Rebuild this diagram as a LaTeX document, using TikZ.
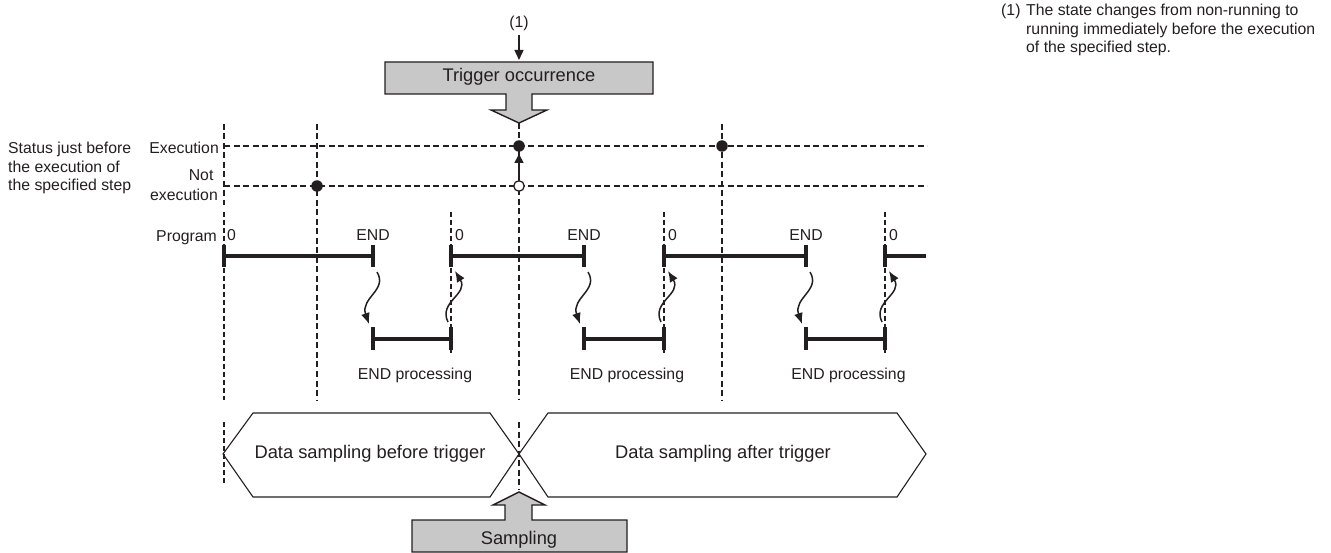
\documentclass[tikz,border=0pt]{standalone}
\usepackage{fontspec}
\setmainfont{Liberation Sans}
\usetikzlibrary{arrows.meta}
\definecolor{boxgray}{RGB}{200,200,200}
\definecolor{ink}{RGB}{35,31,32}
\begin{document}
\begin{tikzpicture}[x=1pt,y=-1pt,
  every node/.style={inner sep=0pt,text=ink},
  small/.style={font=\fontsize{15.8}{18.5}\selectfont},
  big/.style={font=\fontsize{18.3}{22}\selectfont},
  grid/.style={draw=ink,line width=1.4pt,dash pattern=on 6pt off 3.5pt},
  fine/.style={draw=ink,line width=1.1pt,dash pattern=on 5pt off 3pt},
  barline/.style={draw=ink,line width=4pt},
  tickline/.style={draw=ink,line width=4.5pt},
  wave/.style={draw=ink,line width=1.5pt,-{Latex[length=11pt,width=9pt]}},
  hexline/.style={draw=ink,line width=1.1pt,line join=miter},
  blockarrow/.style={draw=ink,line width=1.4pt,fill=boxgray,line join=miter},
  dotfill/.style={circle,fill=ink,minimum size=11.5pt},
  dotopen/.style={circle,draw=ink,fill=white,line width=1.3pt,minimum size=10.5pt}
]
\useasboundingbox (0,0) rectangle (1331,553);

% ---------- trigger occurrence block arrow ----------
\draw[blockarrow] (385,62) -- (653,62) -- (653,94) -- (532,94) -- (532,110) -- (547,110)
  -- (519,123) -- (491,110) -- (506,110) -- (506,94) -- (385,94) -- cycle;
\node[big,anchor=base] (trig) at (519,82) {Trigger occurrence};
\node[small,anchor=base] (one) at (519,27.5) {(1)};
\coordinate (trigtop) at (519,60);
\draw[ink,line width=1.4pt,-{Triangle[length=10pt,width=9pt]}] (one.south) ++(0,4) -- (trigtop);

% ---------- sampling block arrow ----------
\draw[blockarrow] (412,520) -- (505,520) -- (505,505) -- (493,505) -- (519,492) -- (545,505)
  -- (532,505) -- (532,520) -- (627,520) -- (627,552) -- (412,552) -- cycle;
\node[big,anchor=base] (samp) at (519,544) {Sampling};

% ---------- horizontal status lines ----------
\coordinate (exL) at (224,146); \coordinate (exR) at (927,146);
\coordinate (neL) at (224,186); \coordinate (neR) at (927,186);
\draw[grid] (exL) -- (exR);
\draw[grid] (neL) -- (neR);

% ---------- vertical dashed lines ----------
\draw[grid] (224,124) -- (224,205);
\draw[fine] (224,212) -- (224,400);
\draw[fine] (224,422) -- (224,483);
\draw[grid] (317,124) -- (317,400);
\draw[grid] (722,124) -- (722,400);
\draw[grid] (519,123) -- (519,400);
\draw[grid] (519,422) -- (519,490);
\foreach \xx in {451,664,885} {\draw[fine] (\xx,212) -- (\xx,355);}

% ---------- left labels ----------
\node[small,anchor=base west,align=left] (status) at (8,191)
  {Status just before\\the execution of\\the specified step};
\node[small,anchor=base east] (lexec) at (219,154) {Execution};
\node[small,anchor=base east,align=right,font=\fontsize{15.8}{19.5}\selectfont] (lnot) at (218,200.5)
  {Not\hspace*{4.4pt}\\execution};
\node[small,anchor=base east] (lprog) at (217,241.5) {Program};

% ---------- dots ----------
\node[dotfill] (d1) at (317,186) {};
\node[dotfill] (d2) at (519,146) {};
\node[dotfill] (d3) at (722,146) {};
\node[dotopen] (d0) at (519,186) {};
\draw[ink,line width=1.4pt,-{Triangle[length=9pt,width=9pt]}] (d0.north) -- ([yshift=-2pt]d2.south);

% ---------- program bar ----------
\coordinate (s1) at (224,256); \coordinate (e1) at (373,256);
\coordinate (s2) at (451,256); \coordinate (e2) at (584,256);
\coordinate (s3) at (664,256); \coordinate (e3) at (806,256);
\coordinate (s4) at (885,256); \coordinate (e4) at (926,256);
\draw[barline] (s1) -- (e1);
\draw[barline] (s2) -- (e2);
\draw[barline] (s3) -- (e3);
\draw[barline] (s4) -- (e4);
\foreach \c in {s1,e1,s2,e2,s3,e3,s4} {
  \draw[tickline] ([yshift=11pt]\c) -- ([yshift=-11pt]\c);
}
\foreach \xx/\nm in {227/z1,455/z2,668/z3,889/z4} {
  \node[small,anchor=base west] (\nm) at (\xx,241) {0};
}
\foreach \xx/\nm in {373/n1,584/n2,806/n3} {
  \node[small,anchor=base] (\nm) at (\xx,241) {END};
}

% ---------- END processing bars ----------
\foreach \a/\b/\nm in {373/451/p1,584/664/p2,806/885/p3} {
  \coordinate (\nm a) at (\a,339);
  \coordinate (\nm b) at (\b,339);
  \draw[barline] (\nm a) -- (\nm b);
  \draw[tickline] ([yshift=11.5pt]\nm a) -- ([yshift=-11.5pt]\nm a);
  \draw[tickline] ([yshift=11.5pt]\nm b) -- ([yshift=-11.5pt]\nm b);
  \node[small,anchor=base] (\nm t) at ({(\a+\b)/2+3},379) {END processing};
}

% ---------- wavy arrows ----------
\foreach \xx in {373,584,806} {
  \draw[wave] (\xx+4,272) .. controls (\xx+15,290) and (\xx-13,298) .. (\xx-4,324);
}
\foreach \xx in {451,664,885} {
  \draw[wave] (\xx-3,322) .. controls (\xx-13,302) and (\xx+18,294) .. (\xx+4,271);
}

% ---------- data sampling hexagons ----------
\draw[hexline] (223,454) -- (253,413) -- (490,413) -- (519,454) -- (490,497) -- (253,497) -- cycle;
\draw[hexline] (519,454) -- (548,413) -- (897,413) -- (926,454) -- (897,497) -- (548,497) -- cycle;
\node[big,anchor=base] (before) at (370,458) {Data sampling before trigger};
\node[big,anchor=base] (after) at (723,458) {Data sampling after trigger};

% ---------- note ----------
\node[small,anchor=base west] (noteno) at (1001,16) {(1)};
\node[small,anchor=base west,align=left,font=\fontsize{15.8}{18.5}\selectfont] (note) at (1026,53)
  {The state changes from non-running to\\running immediately before the execution\\of the specified step.};
\end{tikzpicture}
\end{document}
